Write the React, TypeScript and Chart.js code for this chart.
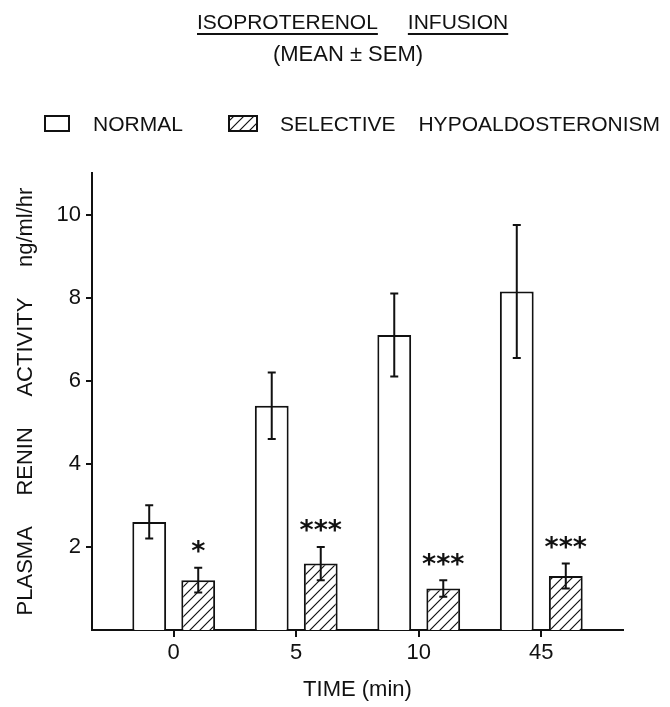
import React, { useEffect, useRef } from 'react';
import { Chart, registerables } from 'chart.js';

Chart.register(...registerables);

// ---- data ----
const timeLabels = ['0', '5', '10', '45'];
const normalMeans = [2.6, 5.4, 7.1, 8.15];
const normalSem = [0.4, 0.8, 1.0, 1.6];
const hypoMeans = [1.2, 1.6, 1.0, 1.3];
const hypoSem = [0.3, 0.4, 0.2, 0.3];
const significance = ['*', '***', '***', '***'];
const yTicks = [2, 4, 6, 8, 10];
const titleWords = ['ISOPROTERENOL', 'INFUSION'];
const subtitleText = '(MEAN ± SEM)';
const legendNormal = 'NORMAL';
const legendHypoWords = ['SELECTIVE', 'HYPOALDOSTERONISM'];
const xTitle = 'TIME (min)';
const yTitle = 'PLASMA     RENIN     ACTIVITY     ng/ml/hr';

const INK = '#111';
const FONT = "'Liberation Sans', Arial, sans-serif";

function makeHatch(ctx: CanvasRenderingContext2D): CanvasPattern | string {
  const s = 10;
  const c = document.createElement('canvas');
  c.width = s;
  c.height = s;
  const g = c.getContext('2d');
  if (!g) return '#fff';
  g.fillStyle = '#fff';
  g.fillRect(0, 0, s, s);
  g.strokeStyle = INK;
  g.lineWidth = 1.2;
  g.beginPath();
  g.moveTo(-1, s + 1);
  g.lineTo(s + 1, -1);
  g.moveTo(-1, 1);
  g.lineTo(1, -1);
  g.moveTo(s - 1, s + 1);
  g.lineTo(s + 1, s - 1);
  g.stroke();
  return ctx.createPattern(c, 'repeat') || '#fff';
}

const decorPlugin = {
  id: 'decor',
  afterDatasetsDraw(chart: any) {
    const ctx: CanvasRenderingContext2D = chart.ctx;
    const y = chart.scales.y;
    const sems = [normalSem, hypoSem];
    const means = [normalMeans, hypoMeans];
    ctx.save();
    ctx.strokeStyle = INK;
    ctx.lineWidth = 2;
    const cap = 4;
    for (let d = 0; d < 2; d++) {
      const meta = chart.getDatasetMeta(d);
      meta.data.forEach((el: any, i: number) => {
        const yTop = y.getPixelForValue(means[d][i] + sems[d][i]);
        const yBot = y.getPixelForValue(means[d][i] - sems[d][i]);
        ctx.beginPath();
        ctx.moveTo(el.x, yTop);
        ctx.lineTo(el.x, yBot);
        ctx.moveTo(el.x - cap, yTop);
        ctx.lineTo(el.x + cap, yTop);
        ctx.moveTo(el.x - cap, yBot);
        ctx.lineTo(el.x + cap, yBot);
        ctx.stroke();
        if (d === 1) {
          ctx.fillStyle = INK;
          ctx.font = "bold 27px 'DejaVu Sans', sans-serif";
          ctx.textAlign = 'center';
          ctx.textBaseline = 'alphabetic';
          const m = ctx.measureText('*');
          const off = (m.actualBoundingBoxAscent - m.actualBoundingBoxDescent) / 2;
          const cy = yTop - 21;
          ctx.fillText(significance[i], el.x, cy + off);
        }
      });
    }
    ctx.restore();
  },
  afterDraw(chart: any) {
    const ctx: CanvasRenderingContext2D = chart.ctx;
    ctx.save();
    ctx.fillStyle = INK;
    ctx.strokeStyle = INK;
    ctx.textBaseline = 'alphabetic';
    // title
    ctx.font = `21px ${FONT}`;
    const gap = 30;
    const w0 = ctx.measureText(titleWords[0]).width;
    const w1 = ctx.measureText(titleWords[1]).width;
    let x = 197;
    const base = 29;
    ctx.textAlign = 'left';
    ctx.lineWidth = 2;
    [[titleWords[0], w0], [titleWords[1], w1]].forEach(([t, w]: any) => {
      ctx.fillText(t, x, base);
      ctx.beginPath();
      ctx.moveTo(x, base + 5);
      ctx.lineTo(x + w, base + 5);
      ctx.stroke();
      x += w + gap;
    });
    ctx.font = `22px ${FONT}`;
    ctx.textAlign = 'center';
    ctx.fillText(subtitleText, 348, 61);
    // legend
    ctx.font = `21px ${FONT}`;
    ctx.textAlign = 'left';
    ctx.lineWidth = 2;
    ctx.fillStyle = '#fff';
    ctx.fillRect(45, 116, 24, 15);
    ctx.strokeRect(45, 116, 24, 15);
    ctx.fillStyle = (chart as any).$hatch || '#fff';
    ctx.fillRect(229, 116, 28, 15);
    ctx.strokeRect(229, 116, 28, 15);
    ctx.fillStyle = INK;
    const lb = 131;
    ctx.fillText(legendNormal, 93, lb);
    ctx.fillText(legendHypoWords[0], 280, lb);
    ctx.textAlign = 'right';
    ctx.fillText(legendHypoWords[1], 660, lb);
    ctx.restore();
  },
};

export default function App() {
  const ref = useRef<HTMLCanvasElement | null>(null);
  useEffect(() => {
    const canvas = ref.current;
    if (!canvas) return;
    const ctx = canvas.getContext('2d') as CanvasRenderingContext2D;
    const hatch = makeHatch(ctx);
    const tickFont = { family: FONT, size: 22 };
    const chart = new Chart(ctx, {
      type: 'bar',
      data: {
        datasets: [
          {
            label: legendNormal,
            data: normalMeans.map((v, i) => ({ x: i, y: v })),
            backgroundColor: '#fff',
            borderColor: INK,
            borderWidth: 2,
            categoryPercentage: 0.8,
            barPercentage: 0.69,
          },
          {
            label: legendHypoWords.join(' '),
            data: hypoMeans.map((v, i) => ({ x: i, y: v })),
            backgroundColor: hatch as any,
            borderColor: INK,
            borderWidth: 2,
            categoryPercentage: 0.8,
            barPercentage: 0.69,
          },
        ],
      },
      options: {
        animation: false,
        responsive: true,
        maintainAspectRatio: false,
        layout: { padding: { top: 173, right: 47, left: 0, bottom: 0 } },
        plugins: { legend: { display: false }, tooltip: { enabled: false }, title: { display: false } },
        scales: {
          x: {
            type: 'linear',
            offset: false,
            min: -0.667,
            max: 3.667,
            afterBuildTicks: (s: any) => {
              s.ticks = timeLabels.map((_, i) => ({ value: i }));
            },
            afterFit: (s: any) => {
              s.height = 77;
            },
            ticks: {
              autoSkip: false,
              maxRotation: 0,
              color: INK,
              font: tickFont,
              padding: 3,
              callback: (v: any) => timeLabels[Math.round(Number(v))],
            },
            grid: { offset: false, drawOnChartArea: false, drawTicks: true, tickLength: 7, color: INK, lineWidth: 2 },
            border: { display: true, color: INK, width: 2 },
            title: { display: true, text: xTitle, color: INK, font: tickFont, padding: { top: 0, bottom: 4 } },
          },
          y: {
            min: 0,
            max: 11,
            afterBuildTicks: (s: any) => {
              s.ticks = yTicks.map((v) => ({ value: v }));
            },
            afterFit: (s: any) => {
              s.width = 92;
            },
            ticks: { color: INK, font: tickFont, padding: 5 },
            grid: { drawOnChartArea: false, drawTicks: true, tickLength: 6, color: INK, lineWidth: 2 },
            border: { display: true, color: INK, width: 2 },
            title: { display: true, text: yTitle, color: INK, font: tickFont, padding: { top: 13, bottom: 0 } },
          },
        },
      },
      plugins: [decorPlugin],
    });
    (chart as any).$hatch = hatch;
    chart.draw();
    return () => chart.destroy();
  }, []);
  return (
    <div style={{ position: 'fixed', left: 0, top: 0, width: 670, height: 707, background: '#fff' }}>
      <canvas ref={ref} />
    </div>
  );
}
